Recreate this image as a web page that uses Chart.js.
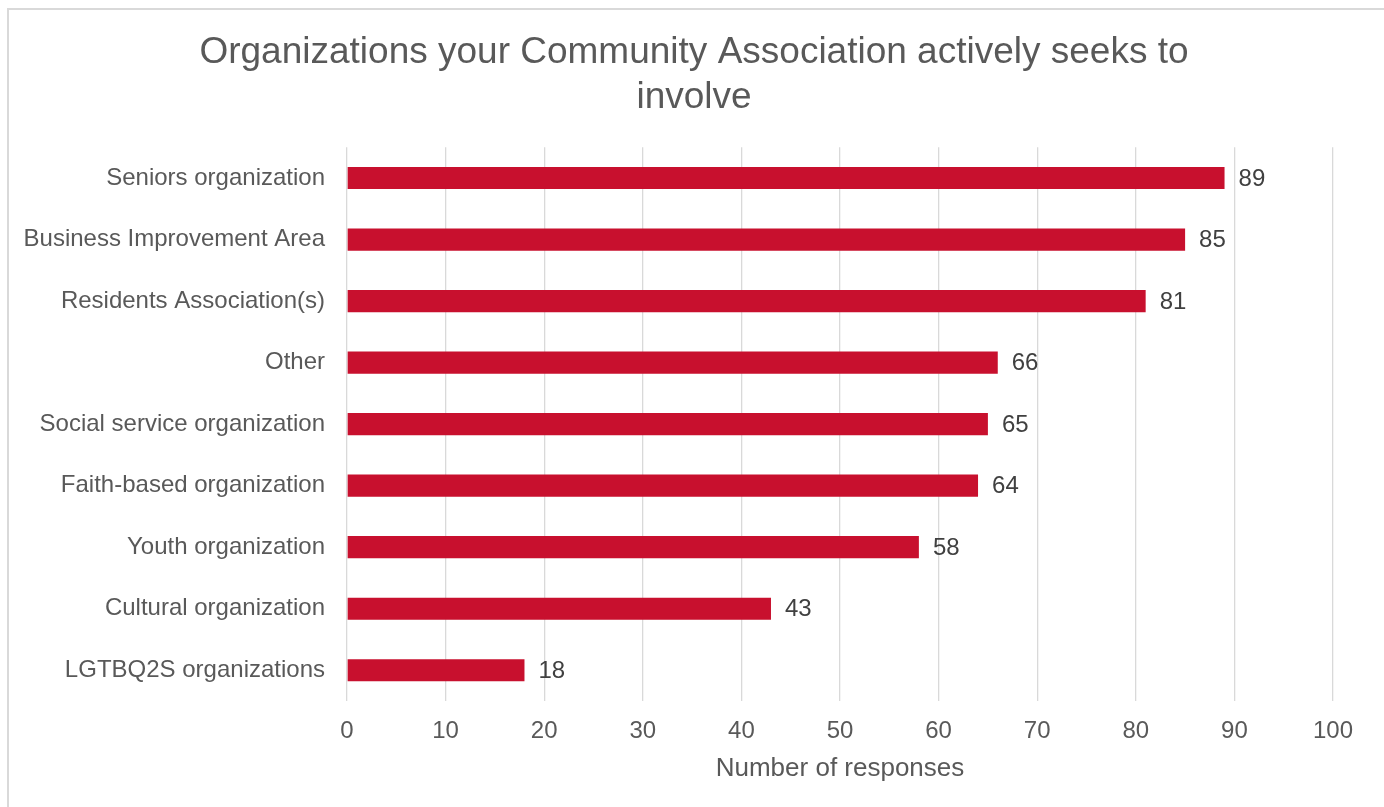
<!DOCTYPE html>
<html>
<head>
<meta charset="utf-8">
<script src="https://cdn.jsdelivr.net/npm/chart.js@4/dist/chart.umd.min.js"></script>
<style>
  html, body { margin: 0; padding: 0; background: #fff; overflow: hidden; }
  #frame { position: absolute; left: 7px; top: 8px; width: 1400px; height: 820px; border: 2px solid #d9d9d9; box-sizing: border-box; }
  #c { position: absolute; left: 0; top: 0; }
</style>
</head>
<body>
<div id="frame"></div>
<canvas id="c" width="1384" height="807"></canvas>
<script>
const titleLines = ["Organizations your Community Association actively seeks to", "involve"];
const categories = [
  "Seniors organization",
  "Business Improvement Area",
  "Residents Association(s)",
  "Other",
  "Social service organization",
  "Faith-based organization",
  "Youth organization",
  "Cultural organization",
  "LGTBQ2S organizations"
];
const responses = [89, 85, 81, 66, 65, 64, 58, 43, 18];
const xTicks = [0, 10, 20, 30, 40, 50, 60, 70, 80, 90, 100];
const axisTitle = "Number of responses";

const FONT = "'Liberation Sans', Arial, sans-serif";

const valueLabels = {
  id: 'valueLabels',
  afterDatasetsDraw(chart) {
    const ctx = chart.ctx;
    const meta = chart.getDatasetMeta(0);
    ctx.save();
    ctx.font = "24px " + FONT;
    ctx.fillStyle = "#404040";
    ctx.textAlign = "left";
    ctx.textBaseline = "middle";
    meta.data.forEach((bar, i) => {
      ctx.fillText(String(chart.data.datasets[0].data[i]), bar.x + 14, bar.y + 1);
    });
    ctx.restore();
  }
};

new Chart(document.getElementById('c'), {
  type: 'bar',
  data: {
    labels: categories,
    datasets: [{
      data: responses,
      backgroundColor: '#C8102E',
      borderWidth: 0,
      barPercentage: 0.36,
      categoryPercentage: 1.0
    }]
  },
  options: {
    indexAxis: 'y',
    responsive: false,
    animation: false,
    devicePixelRatio: 1,
    layout: { padding: { left: 4, right: 0, top: 0, bottom: 0 } },
    plugins: {
      legend: { display: false },
      tooltip: { enabled: false },
      title: {
        display: true,
        text: titleLines,
        color: '#595959',
        font: { family: FONT, size: 37, weight: 'normal', lineHeight: 1.22 },
        padding: { top: 30, bottom: 27 }
      }
    },
    scales: {
      x: {
        min: 0,
        max: 100,
        afterBuildTicks(scale) { scale.ticks = xTicks.map(v => ({ value: v })); },
        afterFit(scale) { scale.height = 106; },
        grid: { color: '#d9d9d9', lineWidth: 1.3, drawTicks: false },
        border: { display: false },
        ticks: { color: '#595959', font: { family: FONT, size: 24 }, padding: 16 },
        title: {
          display: true,
          text: axisTitle,
          color: '#595959',
          font: { family: FONT, size: 26 },
          padding: { top: 0, bottom: 23 }
        }
      },
      y: {
        afterFit(scale) { scale.width = 343; },
        grid: { display: false, drawTicks: false },
        border: { display: false },
        ticks: { color: '#595959', font: { family: FONT, size: 24 }, padding: 22 }
      },
      ySpacer: {
        axis: 'y',
        type: 'linear',
        position: 'right',
        afterFit(scale) { scale.width = 51; },
        grid: { display: false, drawTicks: false },
        border: { display: false },
        ticks: { display: false }
      }
    }
  },
  plugins: [valueLabels]
});
</script>
</body>
</html>
